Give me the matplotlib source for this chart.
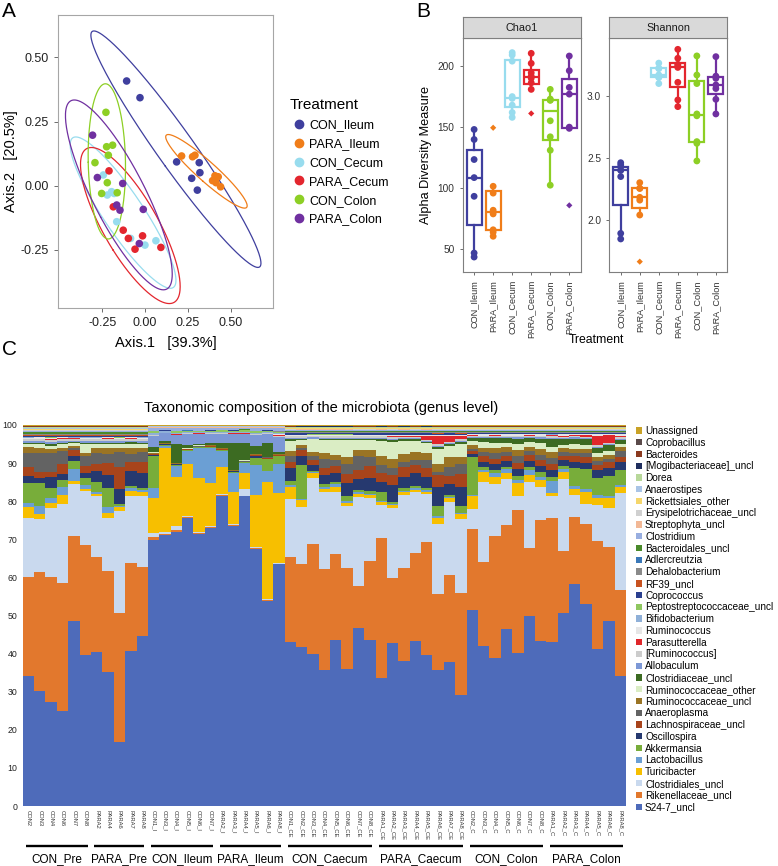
import numpy as np
import matplotlib
matplotlib.use("Agg")
import matplotlib.pyplot as plt
from matplotlib.lines import Line2D
from matplotlib.patches import Patch
import matplotlib.transforms as mtransforms

plt.rcParams['font.family'] = ['Liberation Sans', 'DejaVu Sans']

# ---------------- Panel A: PCoA ----------------
treatments = ['CON_Ileum', 'PARA_Ileum', 'CON_Cecum', 'PARA_Cecum', 'CON_Colon', 'PARA_Colon']
treat_colors = ['#3F3F9E', '#F07D19', '#98DCEE', '#E3262E', '#8DCF25', '#7030A0']

con_ileum_x = [-0.107, -0.029, 0.185, 0.273, 0.317, 0.321, 0.306]
con_ileum_y = [0.408, 0.343, 0.093, 0.029, 0.090, 0.051, -0.017]
para_ileum_x = [0.214, 0.278, 0.292, 0.409, 0.428, 0.415, 0.442, 0.395]
para_ileum_y = [0.116, 0.113, 0.119, 0.039, 0.035, 0.012, -0.004, 0.020]
con_cecum_x = [-0.243, -0.195, -0.220, -0.165, -0.084, 0.000, 0.064, -0.180]
con_cecum_y = [0.042, -0.023, -0.036, -0.140, -0.205, -0.231, -0.214, -0.030]
para_cecum_x = [-0.210, -0.185, -0.127, -0.097, -0.058, -0.014, 0.093]
para_cecum_y = [0.058, -0.082, -0.173, -0.205, -0.247, -0.195, -0.240]
con_colon_x = [-0.228, -0.224, -0.189, -0.214, -0.292, -0.220, -0.253, -0.162]
con_colon_y = [0.286, 0.152, 0.158, 0.119, 0.090, 0.012, -0.030, -0.027]
para_colon_x = [-0.306, -0.278, -0.130, -0.165, -0.146, -0.010, -0.033]
para_colon_y = [0.197, 0.032, 0.009, -0.075, -0.095, -0.092, -0.225]
ellipse_level = 0.98

# ---------------- Panel B: alpha diversity ----------------
chao1_con_ileum = [148.1, 139.9, 123.5, 108.7, 93.4, 47.0, 43.7]
chao1_para_ileum = [149.5, 101.6, 96.0, 82.0, 79.0, 66.0, 64.0, 60.7]
chao1_con_cecum = [211.0, 209.0, 204.0, 175.0, 173.5, 168.0, 162.0, 158.0]
chao1_para_cecum = [210.4, 202.2, 194.5, 191.8, 190.0, 186.3, 180.9, 161.2]
chao1_con_colon = [180.9, 173.0, 172.1, 172.0, 155.2, 142.1, 131.1, 102.5]
chao1_para_colon = [208.2, 196.2, 182.5, 177.0, 150.0, 149.0, 86.0]

shannon_con_ileum = [2.462, 2.444, 2.403, 2.400, 2.350, 1.892, 1.847]
shannon_para_ileum = [2.301, 2.255, 2.255, 2.183, 2.160, 2.040, 1.664]
shannon_con_cecum = [3.265, 3.225, 3.220, 3.170, 3.150, 3.150, 3.100]
shannon_para_cecum = [3.376, 3.304, 3.255, 3.245, 3.230, 3.110, 2.968, 2.914]
shannon_con_colon = [3.323, 3.169, 3.100, 2.855, 2.840, 2.632, 2.618, 2.476]
shannon_para_colon = [3.317, 3.160, 3.142, 3.089, 3.060, 2.973, 2.855]

# ---------------- Panel C: taxonomic composition ----------------
group_names = ['CON_Pre', 'PARA_Pre', 'CON_Ileum', 'PARA_Ileum', 'CON_Caecum',
               'PARA_Caecum', 'CON_Colon', 'PARA_Colon']
group_sizes = [6, 5, 6, 6, 8, 8, 7, 7]
sample_labels = [
    'CON2', 'CON3', 'CON4', 'CON6', 'CON7', 'CON8',
    'PARA2', 'PARA4', 'PARA6', 'PARA7', 'PARA8',
    'CON1_I', 'CON3_I', 'CON4_I', 'CON5_I', 'CON6_I', 'CON7_I',
    'PARA2_I', 'PARA3_I', 'PARA4_I', 'PARA5_I', 'PARA6_I', 'PARA8_I',
    'CON1_CE', 'CON2_CE', 'CON3_CE', 'CON4_CE', 'CON5_CE', 'CON6_CE', 'CON7_CE', 'CON8_CE',
    'PARA1_CE', 'PARA2_CE', 'PARA3_CE', 'PARA4_CE', 'PARA5_CE', 'PARA6_CE', 'PARA7_CE', 'PARA8_CE',
    'CON2_C', 'CON3_C', 'CON4_C', 'CON5_C', 'CON6_C', 'CON7_C', 'CON8_C',
    'PARA1_C', 'PARA2_C', 'PARA3_C', 'PARA4_C', 'PARA5_C', 'PARA6_C', 'PARA8_C']

# values in %, rows: Pre (11) / Ileum (12) / Caecum (16) / Colon (14)
s24_7 = [34.6, 30.4, 27.6, 25.3, 49.0, 40.0, 40.6, 35.4, 17.1, 41.2, 45.3,
         69.2, 71.0, 71.3, 75.6, 71.6, 73.0, 82.0, 74.0, 82.0, 67.3, 53.7, 63.4,
         43.6, 42.5, 41.1, 36.8, 44.9, 37.0, 47.3, 44.3, 34.2, 43.5, 38.8, 43.9, 40.6, 35.9, 38.4, 29.4,
         52.1, 42.3, 39.2, 46.9, 40.5, 50.4, 43.6, 43.0, 51.2, 58.9, 53.4, 41.6, 49.1, 34.5]
rikenellaceae = [26.2, 31.5, 33.0, 33.7, 22.6, 29.4, 25.3, 26.7, 34.3, 23.4, 18.2,
                 0.9, 0.4, 0.5, 0.3, 0.3, 0.3, 0.2, 0.3, 0.2, 0.2, 0.3, 0.1,
                 22.7, 22.1, 29.6, 27.3, 23.2, 27.4, 11.3, 21.0, 37.4, 17.2, 24.7, 23.5, 30.2, 19.9, 23.2, 27.1,
                 21.6, 22.4, 32.4, 27.7, 38.1, 18.0, 31.8, 32.5, 16.3, 17.9, 21.2, 28.6, 19.6, 22.6]
clostridiales = [15.6, 13.9, 18.4, 21.1, 14.0, 14.1, 15.9, 14.0, 27.0, 17.7, 18.8,
                 1.0, 0.3, 1.2, 0.3, 0.3, 0.3, 0.3, 0.3, 1.8, 0.3, 0.3, 0.1,
                 15.3, 15.3, 17.9, 20.6, 17.0, 16.8, 23.6, 16.9, 8.7, 18.7, 19.4, 16.3, 12.9, 18.6, 19.4, 19.6,
                 5.3, 21.3, 13.8, 12.0, 3.6, 17.3, 8.9, 5.7, 19.1, 5.7, 5.3, 9.4, 10.3, 25.9]
turicibacter = [3.0, 1.5, 1.3, 2.3, 0.8, 0.7, 0.7, 1.5, 1.0, 1.3, 1.2,
                9.2, 22.2, 12.6, 13.7, 14.3, 11.3, 7.0, 8.3, 4.2, 13.4, 30.6, 18.5,
                3.3, 1.7, 1.3, 0.8, 1.2, 0.8, 0.8, 0.6, 0.8, 0.8, 0.8, 0.6, 0.5, 1.5, 1.0, 1.2,
                3.5, 2.6, 1.9, 1.8, 3.5, 2.0, 1.7, 1.0, 1.8, 1.5, 3.0, 2.0, 2.5, 1.5]
lactobacillus = [1.0, 2.0, 1.3, 2.0, 3.0, 1.0, 0.5, 1.5, 0.3, 1.0, 0.5,
                 2.6, 0.5, 3.0, 3.5, 7.8, 9.2, 4.4, 5.1, 2.5, 7.8, 2.8, 7.4,
                 0.5, 0.3, 0.4, 0.5, 0.8, 0.4, 0.5, 0.4, 0.3, 0.4, 0.4, 0.4, 0.5, 0.5, 0.3, 0.3,
                 0.3, 0.6, 1.0, 1.0, 0.8, 1.2, 0.8, 3.0, 0.8, 0.8, 0.8, 0.8, 0.5, 0.5]
akkermansia = [5.3, 6.0, 2.5, 2.0, 2.2, 2.0, 2.5, 5.0, 0.5, 0.5, 0.5,
               8.3, 0.3, 0.3, 0.2, 0.2, 0.2, 0.2, 0.3, 0.3, 2.0, 3.1, 2.1,
               1.0, 9.0, 0.3, 0.8, 0.5, 1.5, 0.6, 0.8, 2.5, 0.5, 0.8, 0.6, 0.6, 2.7, 0.5, 1.8,
               10.0, 0.6, 0.8, 0.5, 1.0, 1.0, 1.5, 1.0, 0.8, 5.0, 5.5, 4.5, 5.5, 4.0]
oscillospira = [2.0, 1.5, 3.0, 1.5, 1.3, 1.3, 3.0, 3.5, 4.0, 3.8, 4.0,
                0.3, 0.1, 0.1, 0.1, 0.1, 0.1, 0.1, 0.1, 0.1, 0.5, 0.2, 0.2,
                3.5, 2.5, 1.5, 2.5, 2.5, 3.5, 3.0, 3.5, 2.5, 4.5, 3.0, 3.5, 3.0, 5.0, 3.0, 5.0,
                0.8, 1.5, 1.5, 1.5, 2.0, 1.5, 1.5, 2.0, 1.5, 1.5, 1.5, 2.0, 2.0, 2.0]
lachnospiraceae = [2.2, 1.5, 1.3, 2.8, 1.6, 1.8, 1.8, 3.0, 6.0, 2.5, 3.0,
                   0.2, 0.1, 0.1, 0.1, 0.1, 0.1, 0.1, 0.1, 0.1, 0.2, 0.2, 0.2,
                   1.5, 1.5, 1.5, 2.0, 2.0, 2.5, 2.5, 3.0, 2.5, 2.5, 2.5, 2.0, 2.5, 3.0, 2.0, 3.5,
                   1.0, 1.5, 1.5, 1.3, 1.5, 1.5, 1.5, 1.5, 1.2, 1.5, 1.5, 1.5, 1.5, 1.5]
anaeroplasma = [3.7, 5.0, 5.0, 3.3, 0.5, 2.5, 3.0, 2.5, 4.0, 2.2, 2.5,
                0.1, 0.1, 0.1, 0.1, 0.1, 0.1, 0.1, 0.1, 0.1, 0.1, 0.1, 0.1,
                1.5, 0.5, 1.0, 2.5, 1.5, 2.5, 3.5, 2.5, 2.0, 2.0, 1.5, 1.5, 2.0, 1.0, 2.5, 2.5,
                0.5, 1.0, 1.5, 1.2, 2.0, 1.0, 1.5, 1.5, 1.0, 1.0, 1.2, 1.0, 1.0, 1.5]
ruminococcaceae_uncl = [1.6, 1.5, 1.0, 0.9, 0.5, 1.0, 1.3, 1.5, 1.0, 1.5, 1.2,
                        0.2, 0.1, 0.1, 0.1, 0.1, 0.1, 0.1, 0.1, 0.1, 0.1, 0.1, 0.1,
                        1.5, 0.8, 1.0, 1.5, 1.5, 2.0, 1.8, 2.0, 2.5, 2.5, 2.0, 2.0, 2.0, 2.0, 2.5, 2.0,
                        1.0, 1.2, 1.2, 1.2, 1.5, 1.2, 1.5, 1.5, 1.0, 1.0, 1.0, 1.0, 1.0, 1.0]
ruminococcaceae_other = [0.8, 1.0, 1.0, 1.0, 0.8, 2.2, 1.0, 1.2, 1.0, 1.2, 1.0,
                         0.3, 0.1, 0.1, 0.1, 0.1, 0.1, 0.1, 0.1, 0.1, 0.1, 0.1, 0.1,
                         2.5, 1.5, 3.5, 3.5, 4.0, 4.5, 2.5, 2.5, 4.0, 4.5, 3.5, 3.0, 2.5, 4.0, 3.0, 3.5,
                         1.0, 1.5, 1.5, 1.2, 1.5, 1.2, 1.5, 1.5, 1.0, 1.2, 1.0, 1.0, 1.0, 1.0]
clostridiaceae = [0.3, 0.3, 0.3, 0.3, 0.3, 0.3, 0.3, 0.3, 0.3, 0.3, 0.3,
                  1.2, 0.5, 4.8, 0.8, 0.5, 0.5, 1.3, 7.0, 4.5, 2.0, 3.5, 0.5,
                  0.5, 0.3, 0.2, 0.3, 0.3, 0.3, 0.3, 0.4, 0.5, 0.5, 0.4, 0.4, 0.4, 0.5, 0.5, 0.5,
                  0.8, 1.0, 1.2, 1.2, 1.5, 1.2, 1.2, 2.0, 1.5, 1.5, 1.5, 1.5, 1.5, 1.0]
allobaculum = [0.5, 0.4, 0.6, 0.5, 0.4, 0.5, 0.5, 0.4, 0.5, 0.4, 0.5,
               3.0, 2.0, 2.5, 3.0, 2.5, 2.5, 2.5, 2.5, 2.5, 3.0, 2.5, 4.0,
               0.3, 0.3, 0.3, 0.3, 0.3, 0.3, 0.3, 0.3, 0.3, 0.3, 0.3, 0.3, 0.3, 0.3, 0.3, 0.3,
               0.3, 0.3, 0.3, 0.3, 0.3, 0.3, 0.3, 0.3, 0.3, 0.3, 0.3, 0.3, 0.3, 0.3]
ruminococcus_sq = [0.6, 0.5, 0.7, 0.6, 0.5, 0.6, 0.5, 0.6, 0.5, 0.6, 0.5,
                   0.1, 0.1, 0.1, 0.1, 0.1, 0.1, 0.1, 0.1, 0.1, 0.1, 0.1, 0.1,
                   0.5, 0.4, 0.3, 0.4, 0.4, 0.5, 0.4, 0.4, 0.4, 0.5, 0.4, 0.4, 0.3, 0.5, 0.4, 0.4,
                   0.4, 0.3, 0.4, 0.3, 0.4, 0.3, 0.4, 0.4, 0.3, 0.4, 0.3, 0.4, 0.4, 0.3]
parasutterella = [0.1, 0.1, 0.1, 0.1, 0.1, 0.1, 0.1, 0.1, 0.1, 0.1, 0.1,
                  0.05, 0.05, 0.05, 0.05, 0.05, 0.05, 0.05, 0.05, 0.05, 0.05, 0.05, 0.4,
                  0.1, 0.1, 0.1, 0.1, 0.1, 0.1, 0.1, 0.1, 0.1, 0.2, 0.2, 0.3, 1.0, 2.0, 1.5, 0.8,
                  0.1, 0.1, 0.1, 0.1, 0.1, 0.1, 0.1, 0.3, 0.3, 0.2, 0.5, 2.5, 2.0, 0.5]
ruminococcus = [0.3, 0.4, 0.3, 0.3, 0.2, 0.3, 0.3, 0.3, 0.2, 0.3, 0.3,
                0.05, 0.05, 0.05, 0.05, 0.05, 0.05, 0.05, 0.05, 0.05, 0.05, 0.05, 0.05,
                0.3, 0.2, 0.3, 0.3, 0.3, 0.3, 0.3, 0.2, 0.3, 0.3, 0.3, 0.2, 0.3, 0.3, 0.3, 0.3,
                0.2, 0.3, 0.2, 0.3, 0.3, 0.2, 0.3, 0.2, 0.3, 0.2, 0.2, 0.3, 0.2, 0.3]
bifidobacterium = [0.1, 0.1, 0.1, 0.1, 0.1, 0.1, 0.1, 0.1, 0.1, 0.1, 0.1,
                   0.5, 0.3, 0.4, 0.3, 0.3, 0.3, 0.3, 0.4, 0.3, 0.4, 0.3, 0.4,
                   0.05, 0.05, 0.05, 0.05, 0.05, 0.05, 0.05, 0.05, 0.05, 0.05, 0.05, 0.05, 0.05, 0.05, 0.05, 0.05,
                   0.05, 0.05, 0.05, 0.05, 0.05, 0.05, 0.05, 0.05, 0.05, 0.05, 0.05, 0.05, 0.05, 0.05]
peptostreptococcaceae = [0.05, 0.05, 0.05, 0.05, 0.05, 0.05, 0.05, 0.05, 0.05, 0.05, 0.05,
                         0.4, 0.2, 0.3, 0.2, 0.2, 0.3, 0.4, 0.3, 0.5, 0.3, 0.3, 0.3,
                         0.05, 0.05, 0.05, 0.05, 0.05, 0.05, 0.05, 0.05, 0.05, 0.05, 0.05, 0.05, 0.05, 0.05, 0.05, 0.05,
                         0.05, 0.05, 0.05, 0.05, 0.05, 0.05, 0.05, 0.05, 0.05, 0.05, 0.05, 0.05, 0.05, 0.05]
coprococcus = [0.3, 0.3, 0.4, 0.3, 0.3, 0.3, 0.3, 0.3, 0.4, 0.3, 0.3,
               0.05, 0.05, 0.05, 0.05, 0.05, 0.05, 0.05, 0.05, 0.05, 0.05, 0.05, 0.05,
               0.3, 0.3, 0.3, 0.3, 0.3, 0.3, 0.3, 0.3, 0.3, 0.3, 0.3, 0.3, 0.3, 0.3, 0.3, 0.3,
               0.2, 0.2, 0.2, 0.2, 0.2, 0.2, 0.2, 0.2, 0.2, 0.2, 0.2, 0.2, 0.2, 0.2]
rf39 = [0.3, 0.2, 0.3, 0.2, 0.3, 0.3, 0.3, 0.2, 0.3, 0.2, 0.3,
        0.02, 0.02, 0.02, 0.02, 0.02, 0.02, 0.02, 0.02, 0.02, 0.02, 0.02, 0.02,
        0.1, 0.1, 0.1, 0.1, 0.1, 0.1, 0.1, 0.1, 0.1, 0.1, 0.1, 0.1, 0.1, 0.1, 0.1, 0.1,
        0.1, 0.1, 0.1, 0.1, 0.1, 0.1, 0.1, 0.1, 0.1, 0.1, 0.1, 0.1, 0.1, 0.1]
dehalobacterium = [0.2, 0.2, 0.2, 0.2, 0.2, 0.2, 0.2, 0.2, 0.2, 0.2, 0.2,
                   0.02, 0.02, 0.02, 0.02, 0.02, 0.02, 0.02, 0.02, 0.02, 0.02, 0.02, 0.02,
                   0.2, 0.2, 0.2, 0.2, 0.2, 0.2, 0.2, 0.2, 0.2, 0.2, 0.2, 0.2, 0.2, 0.2, 0.2, 0.2,
                   0.15, 0.15, 0.15, 0.15, 0.15, 0.15, 0.15, 0.15, 0.15, 0.15, 0.15, 0.15, 0.15, 0.15]
adlercreutzia = [0.1, 0.1, 0.1, 0.1, 0.1, 0.1, 0.1, 0.1, 0.1, 0.1, 0.1,
                 0.05, 0.05, 0.05, 0.05, 0.05, 0.05, 0.05, 0.05, 0.05, 0.05, 0.05, 0.05,
                 0.1, 0.1, 0.1, 0.1, 0.1, 0.1, 0.1, 0.1, 0.1, 0.1, 0.1, 0.1, 0.1, 0.1, 0.1, 0.1,
                 0.1, 0.1, 0.1, 0.1, 0.1, 0.1, 0.1, 0.1, 0.1, 0.1, 0.1, 0.1, 0.1, 0.1]
bacteroidales = [0.4, 0.4, 0.4, 0.4, 0.4, 0.4, 0.4, 0.4, 0.4, 0.4, 0.4,
                 0.05, 0.05, 0.05, 0.05, 0.05, 0.05, 0.05, 0.05, 0.05, 0.05, 0.05, 0.05,
                 0.3, 0.3, 0.3, 0.3, 0.3, 0.3, 0.3, 0.3, 0.3, 0.3, 0.3, 0.3, 0.3, 0.3, 0.3, 0.3,
                 0.3, 0.3, 0.3, 0.3, 0.3, 0.3, 0.3, 0.3, 0.3, 0.3, 0.3, 0.3, 0.3, 0.3]
clostridium = [0.3, 0.3, 0.3, 0.3, 0.3, 0.3, 0.3, 0.3, 0.3, 0.3, 0.3,
               0.8, 0.6, 0.8, 0.7, 0.8, 0.6, 0.5, 0.6, 0.5, 0.8, 0.6, 0.9,
               0.3, 0.3, 0.3, 0.3, 0.3, 0.3, 0.3, 0.3, 0.3, 0.3, 0.3, 0.3, 0.3, 0.3, 0.3, 0.3,
               0.3, 0.3, 0.3, 0.3, 0.3, 0.3, 0.3, 0.3, 0.3, 0.3, 0.3, 0.3, 0.3, 0.3]
streptophyta = [0.1, 0.1, 0.1, 0.1, 0.1, 0.1, 0.1, 0.1, 0.1, 0.1, 0.1,
                0.1, 0.1, 0.1, 0.1, 0.1, 0.1, 0.1, 0.1, 0.1, 0.1, 0.1, 0.1,
                0.05, 0.05, 0.05, 0.05, 0.05, 0.05, 0.05, 0.05, 0.05, 0.05, 0.05, 0.05, 0.05, 0.05, 0.05, 0.05,
                0.05, 0.05, 0.05, 0.05, 0.05, 0.05, 0.05, 0.05, 0.05, 0.05, 0.05, 0.05, 0.05, 0.05]
erysipelotrichaceae = [0.2, 0.2, 0.2, 0.2, 0.2, 0.2, 0.2, 0.2, 0.2, 0.2, 0.2,
                       0.1, 0.1, 0.1, 0.1, 0.1, 0.1, 0.1, 0.1, 0.1, 0.1, 0.1, 0.1,
                       0.2, 0.2, 0.2, 0.2, 0.2, 0.2, 0.2, 0.2, 0.2, 0.2, 0.2, 0.2, 0.2, 0.2, 0.2, 0.2,
                       0.2, 0.2, 0.2, 0.2, 0.2, 0.2, 0.2, 0.2, 0.2, 0.2, 0.2, 0.2, 0.2, 0.2]
rickettsiales = [0.3, 0.3, 0.3, 0.3, 0.3, 0.3, 0.3, 0.3, 0.3, 0.3, 0.3,
                 0.05, 0.05, 0.05, 0.05, 0.05, 0.05, 0.05, 0.05, 0.05, 0.05, 0.05, 0.05,
                 0.1, 0.1, 0.1, 0.1, 0.1, 0.1, 0.1, 0.1, 0.1, 0.1, 0.1, 0.1, 0.1, 0.1, 0.1, 0.1,
                 0.1, 0.1, 0.1, 0.1, 0.1, 0.1, 0.1, 0.1, 0.1, 0.1, 0.1, 0.1, 0.1, 0.1]
anaerostipes = [0.1, 0.1, 0.1, 0.1, 0.1, 0.1, 0.1, 0.1, 0.1, 0.1, 0.1,
                0.1, 0.1, 0.1, 0.1, 0.1, 0.1, 0.1, 0.1, 0.1, 0.1, 0.1, 0.1,
                0.1, 0.1, 0.1, 0.1, 0.1, 0.1, 0.1, 0.1, 0.1, 0.1, 0.1, 0.1, 0.1, 0.1, 0.1, 0.1,
                0.1, 0.1, 0.1, 0.1, 0.1, 0.1, 0.1, 0.1, 0.1, 0.1, 0.1, 0.1, 0.1, 0.1]
dorea = [0.3, 0.3, 0.3, 0.3, 0.3, 0.3, 0.3, 0.3, 0.3, 0.3, 0.3,
         0.05, 0.05, 0.05, 0.05, 0.05, 0.05, 0.05, 0.05, 0.05, 0.05, 0.05, 0.05,
         0.2, 0.2, 0.2, 0.2, 0.2, 0.2, 0.2, 0.2, 0.2, 0.2, 0.2, 0.2, 0.2, 0.2, 0.2, 0.2,
         0.2, 0.2, 0.2, 0.2, 0.2, 0.2, 0.2, 0.2, 0.2, 0.2, 0.2, 0.2, 0.2, 0.2]
mogibacteriaceae = [0.2, 0.2, 0.2, 0.2, 0.2, 0.2, 0.2, 0.2, 0.2, 0.2, 0.2,
                    0.02, 0.02, 0.02, 0.02, 0.02, 0.02, 0.02, 0.02, 0.02, 0.02, 0.02, 0.02,
                    0.2, 0.2, 0.2, 0.2, 0.2, 0.2, 0.2, 0.2, 0.2, 0.2, 0.2, 0.2, 0.2, 0.2, 0.2, 0.2,
                    0.2, 0.2, 0.2, 0.2, 0.2, 0.2, 0.2, 0.2, 0.2, 0.2, 0.2, 0.2, 0.2, 0.2]
bacteroides = [0.1, 0.1, 0.1, 0.1, 0.1, 0.1, 0.1, 0.1, 0.1, 0.1, 0.1,
               0.02, 0.02, 0.02, 0.02, 0.02, 0.02, 0.02, 0.02, 0.02, 0.02, 0.02, 0.02,
               0.1, 0.1, 0.1, 0.1, 0.1, 0.1, 0.1, 0.1, 0.1, 0.1, 0.1, 0.1, 0.1, 0.1, 0.1, 0.1,
               0.1, 0.1, 0.1, 0.1, 0.1, 0.1, 0.1, 0.1, 0.1, 0.1, 0.1, 0.1, 0.1, 0.1]
coprobacillus = [0.1, 0.1, 0.1, 0.1, 0.1, 0.1, 0.1, 0.1, 0.1, 0.1, 0.1,
                 0.05, 0.05, 0.05, 0.05, 0.05, 0.05, 0.05, 0.05, 0.05, 0.05, 0.05, 0.05,
                 0.1, 0.1, 0.1, 0.1, 0.1, 0.1, 0.1, 0.1, 0.1, 0.1, 0.1, 0.1, 0.1, 0.1, 0.1, 0.1,
                 0.1, 0.1, 0.1, 0.1, 0.1, 0.1, 0.1, 0.1, 0.1, 0.1, 0.1, 0.1, 0.1, 0.1]
unassigned = [0.2, 0.2, 0.2, 0.2, 0.2, 0.2, 0.2, 0.2, 0.2, 0.2, 0.2,
              0.2, 0.2, 0.2, 0.2, 0.2, 0.2, 0.2, 0.2, 0.2, 0.2, 0.2, 0.2,
              0.2, 0.2, 0.2, 0.2, 0.2, 0.2, 0.2, 0.2, 0.2, 0.2, 0.2, 0.2, 0.2, 0.2, 0.2, 0.2,
              0.2, 0.2, 0.2, 0.2, 0.2, 0.2, 0.2, 0.2, 0.2, 0.2, 0.2, 0.2, 0.2, 0.2]

# stacking order, bottom -> top, with colours
taxa = [
    ('S24-7_uncl', s24_7, '#4E6BBA'),
    ('Rikenellaceae_uncl', rikenellaceae, '#E2782D'),
    ('Clostridiales_uncl', clostridiales, '#C9D9EE'),
    ('Turicibacter', turicibacter, '#F7BF00'),
    ('Lactobacillus', lactobacillus, '#6B9FD4'),
    ('Akkermansia', akkermansia, '#78AD3A'),
    ('Oscillospira', oscillospira, '#26396F'),
    ('Lachnospiraceae_uncl', lachnospiraceae, '#A8441B'),
    ('Anaeroplasma', anaeroplasma, '#636363'),
    ('Ruminococcaceae_uncl', ruminococcaceae_uncl, '#9A7424'),
    ('Ruminococcaceae_other', ruminococcaceae_other, '#DAEDC4'),
    ('Clostridiaceae_uncl', clostridiaceae, '#3C6B22'),
    ('Allobaculum', allobaculum, '#7D98D6'),
    ('[Ruminococcus]', ruminococcus_sq, '#CCCCCC'),
    ('Parasutterella', parasutterella, '#E0262A'),
    ('Ruminococcus', ruminococcus, '#E6E6E6'),
    ('Bifidobacterium', bifidobacterium, '#8FB0D8'),
    ('Peptostreptococcaceae_uncl', peptostreptococcaceae, '#8FC760'),
    ('Coprococcus', coprococcus, '#2A3F8F'),
    ('RF39_uncl', rf39, '#C8521F'),
    ('Dehalobacterium', dehalobacterium, '#8A8A8A'),
    ('Adlercreutzia', adlercreutzia, '#3A78B8'),
    ('Bacteroidales_uncl', bacteroidales, '#4A8A2A'),
    ('Clostridium', clostridium, '#98AEE0'),
    ('Streptophyta_uncl', streptophyta, '#F2B896'),
    ('Erysipelotrichaceae_uncl', erysipelotrichaceae, '#D0D0D0'),
    ('Rickettsiales_other', rickettsiales, '#F5D66B'),
    ('Anaerostipes', anaerostipes, '#A9C4E6'),
    ('Dorea', dorea, '#B8D89A'),
    ('[Mogibacteriaceae]_uncl', mogibacteriaceae, '#1F2E5E'),
    ('Bacteroides', bacteroides, '#8B3A1F'),
    ('Coprobacillus', coprobacillus, '#5A4A4A'),
    ('Unassigned', unassigned, '#C9A227'),
]
for name, vals, _ in taxa:
    assert len(vals) == len(sample_labels), name


def fx(px):
    return px / 778


def fy(py):
    return 1 - py / 866


fig = plt.figure(figsize=(7.78, 8.66), dpi=100)

# ======== A ========
axA = fig.add_axes([fx(58), fy(308), fx(273) - fx(58), fy(15) - fy(308)])
pcoa = [(con_ileum_x, con_ileum_y), (para_ileum_x, para_ileum_y),
        (con_cecum_x, con_cecum_y), (para_cecum_x, para_cecum_y),
        (con_colon_x, con_colon_y), (para_colon_x, para_colon_y)]

t = np.linspace(0, 2 * np.pi, 240)
r_ell = np.sqrt(-2 * np.log(1 - ellipse_level))
for (x, y), col in zip(pcoa, treat_colors):
    x = np.asarray(x)
    y = np.asarray(y)
    cov = np.cov(x, y)
    vals, vecs = np.linalg.eigh(cov)
    circ = np.vstack([np.cos(t), np.sin(t)])
    pts = vecs @ (np.sqrt(vals)[:, None] * circ) * r_ell
    axA.plot(x.mean() + pts[0], y.mean() + pts[1], color=col, lw=0.9)
for (x, y), col in zip(pcoa, treat_colors):
    axA.scatter(x, y, s=30, color=col, edgecolors='none', zorder=3)

axA.set_xlim(-0.508, 0.748)
axA.set_ylim(-0.476, 0.665)
axA.set_xticks([-0.25, 0, 0.25, 0.5])
axA.set_xticklabels(['-0.25', '0.00', '0.25', '0.50'])
axA.set_yticks([-0.25, 0, 0.25, 0.5])
axA.set_yticklabels(['-0.25', '0.00', '0.25', '0.50'])
axA.tick_params(labelsize=9, colors='#555555', labelcolor='#222222', length=3, width=0.6)
for s in axA.spines.values():
    s.set_color('#a6a6a6')
    s.set_linewidth(0.8)
axA.set_xlabel('Axis.1   [39.3%]', fontsize=10.5, labelpad=5)
axA.set_ylabel('Axis.2   [20.5%]', fontsize=10.5, labelpad=2)

handles = [Line2D([], [], marker='o', ls='', color=c, markersize=6) for c in treat_colors]
legA = axA.legend(handles, treatments, title='Treatment', loc='upper left',
                  bbox_to_anchor=(fx(283), fy(92)), bbox_transform=fig.transFigure,
                  frameon=False, fontsize=9, title_fontsize=11,
                  handletextpad=0.1, labelspacing=0.55, borderpad=0, handlelength=1.5)
legA._legend_box.align = 'left'

# ======== B ========
chao_data = [chao1_con_ileum, chao1_para_ileum, chao1_con_cecum,
             chao1_para_cecum, chao1_con_colon, chao1_para_colon]
shan_data = [shannon_con_ileum, shannon_para_ileum, shannon_con_cecum,
             shannon_para_cecum, shannon_con_colon, shannon_para_colon]

panels = [(462.7, 'Chao1', chao_data, (31.7, 222.7), [50, 100, 150, 200], '{:.0f}'),
          (609.3, 'Shannon', shan_data, (1.583, 3.465), [2.0, 2.5, 3.0], '{:.1f}')]
axes_B = []
for left, title, data, ylim, yt, fmt in panels:
    ax = fig.add_axes([fx(left), fy(271.7), 118 / 778, fy(38.3) - fy(271.7)])
    axes_B.append(ax)
    pos = np.arange(1, 7)
    for p, vals, col in zip(pos, data, treat_colors):
        vals = np.asarray(vals)
        ax.boxplot([vals], positions=[p], widths=0.78, patch_artist=True, showfliers=False,
                   showcaps=False,
                   boxprops=dict(facecolor='white', edgecolor=col, linewidth=1.6),
                   whiskerprops=dict(color=col, linewidth=1.6),
                   medianprops=dict(color=col, linewidth=1.6))
        q1, q3 = np.percentile(vals, [25, 75])
        iqr = q3 - q1
        out = (vals < q1 - 1.5 * iqr) | (vals > q3 + 1.5 * iqr)
        ax.scatter(np.full((~out).sum(), p), vals[~out], s=24, color=col,
                   edgecolors='none', zorder=3)
        ax.scatter(np.full(out.sum(), p), vals[out], s=10, color=col,
                   marker='D', edgecolors='none', zorder=3)
    ax.set_xlim(0.4, 6.6)
    ax.set_ylim(*ylim)
    ax.set_yticks(yt)
    ax.set_yticklabels([fmt.format(v) for v in yt])
    ax.set_xticks(pos)
    ax.set_xticklabels(treatments, rotation=90)
    ax.tick_params(axis='y', labelsize=7.3, colors='#555555', labelcolor='#333333',
                   length=2.5, width=0.6)
    ax.tick_params(axis='x', labelsize=6.6, colors='#555555', labelcolor='#333333',
                   length=2.5, width=0.6)
    for s in ax.spines.values():
        s.set_color('#7f7f7f')
        s.set_linewidth(0.8)
    strip = fig.add_axes([fx(left), fy(38.3), 118 / 778, fy(17.3) - fy(38.3)])
    strip.set_facecolor('#d9d9d9')
    strip.set_xticks([])
    strip.set_yticks([])
    for s in strip.spines.values():
        s.set_color('#7f7f7f')
        s.set_linewidth(0.8)
    strip.text(0.5, 0.5, title, ha='center', va='center', fontsize=7.8, color='#1a1a1a',
               transform=strip.transAxes)

axes_B[0].set_ylabel('Alpha Diversity Measure', fontsize=9.2, labelpad=4)
fig.text(fx(596), fy(340), 'Treatment', ha='center', va='center', fontsize=8.8)

# ======== C ========
axC = fig.add_axes([fx(22.7), fy(806), (626 - 22.7) / 778, fy(425) - fy(806)])
n_samp = len(sample_labels)
xs = np.arange(n_samp)
totals = np.zeros(n_samp)
for _, vals, _ in taxa:
    totals += np.asarray(vals)
bottom = np.zeros(n_samp)
for name, vals, col in taxa:
    rel = np.asarray(vals) / totals * 100
    axC.bar(xs, rel, bottom=bottom, width=1.0, color=col, linewidth=0)
    bottom += rel
axC.set_xlim(-0.5, n_samp - 0.5)
axC.set_ylim(0, 100)
axC.set_yticks(np.arange(0, 101, 10))
axC.set_xticks(xs)
axC.set_xticklabels(sample_labels, rotation=-90, fontsize=4.2, color='#333333')
axC.tick_params(axis='y', labelsize=6.3, length=0, pad=4, labelcolor='#222222')
axC.tick_params(axis='x', length=0, pad=3)
for s in axC.spines.values():
    s.set_visible(False)

trans = mtransforms.blended_transform_factory(axC.transData, axC.transAxes)
start = 0
for gname, gsize in zip(group_names, group_sizes):
    a = start - 0.5 + 0.3
    b = start + gsize - 0.5 - 0.3
    axC.plot([a, b], [-0.105, -0.105], color='black', lw=1.7, transform=trans,
             clip_on=False, solid_capstyle='butt')
    axC.text((a + b) / 2, -0.14, gname, transform=trans, ha='center', va='center',
             fontsize=8.5)
    start += gsize

fig.text(fx(321), fy(408), 'Taxonomic composition of the microbiota (genus level)',
         ha='center', va='center', fontsize=10.5)

leg_handles = [Patch(facecolor=col, edgecolor='none') for _, _, col in taxa[::-1]]
leg_labels = [name for name, _, _ in taxa[::-1]]
fig.legend(leg_handles, leg_labels, loc='upper left', bbox_to_anchor=(fx(636), fy(426)),
           frameon=False, fontsize=7.2, handlelength=0.6, handleheight=0.6,
           handletextpad=0.3, labelspacing=0.176, borderpad=0, borderaxespad=0)

# panel letters
fig.text(fx(2), fy(2), 'A', fontsize=15, va='top', ha='left')
fig.text(fx(416), fy(2), 'B', fontsize=15, va='top', ha='left')
fig.text(fx(2), fy(340), 'C', fontsize=15, va='top', ha='left')

fig.savefig('out.png', dpi=100)
